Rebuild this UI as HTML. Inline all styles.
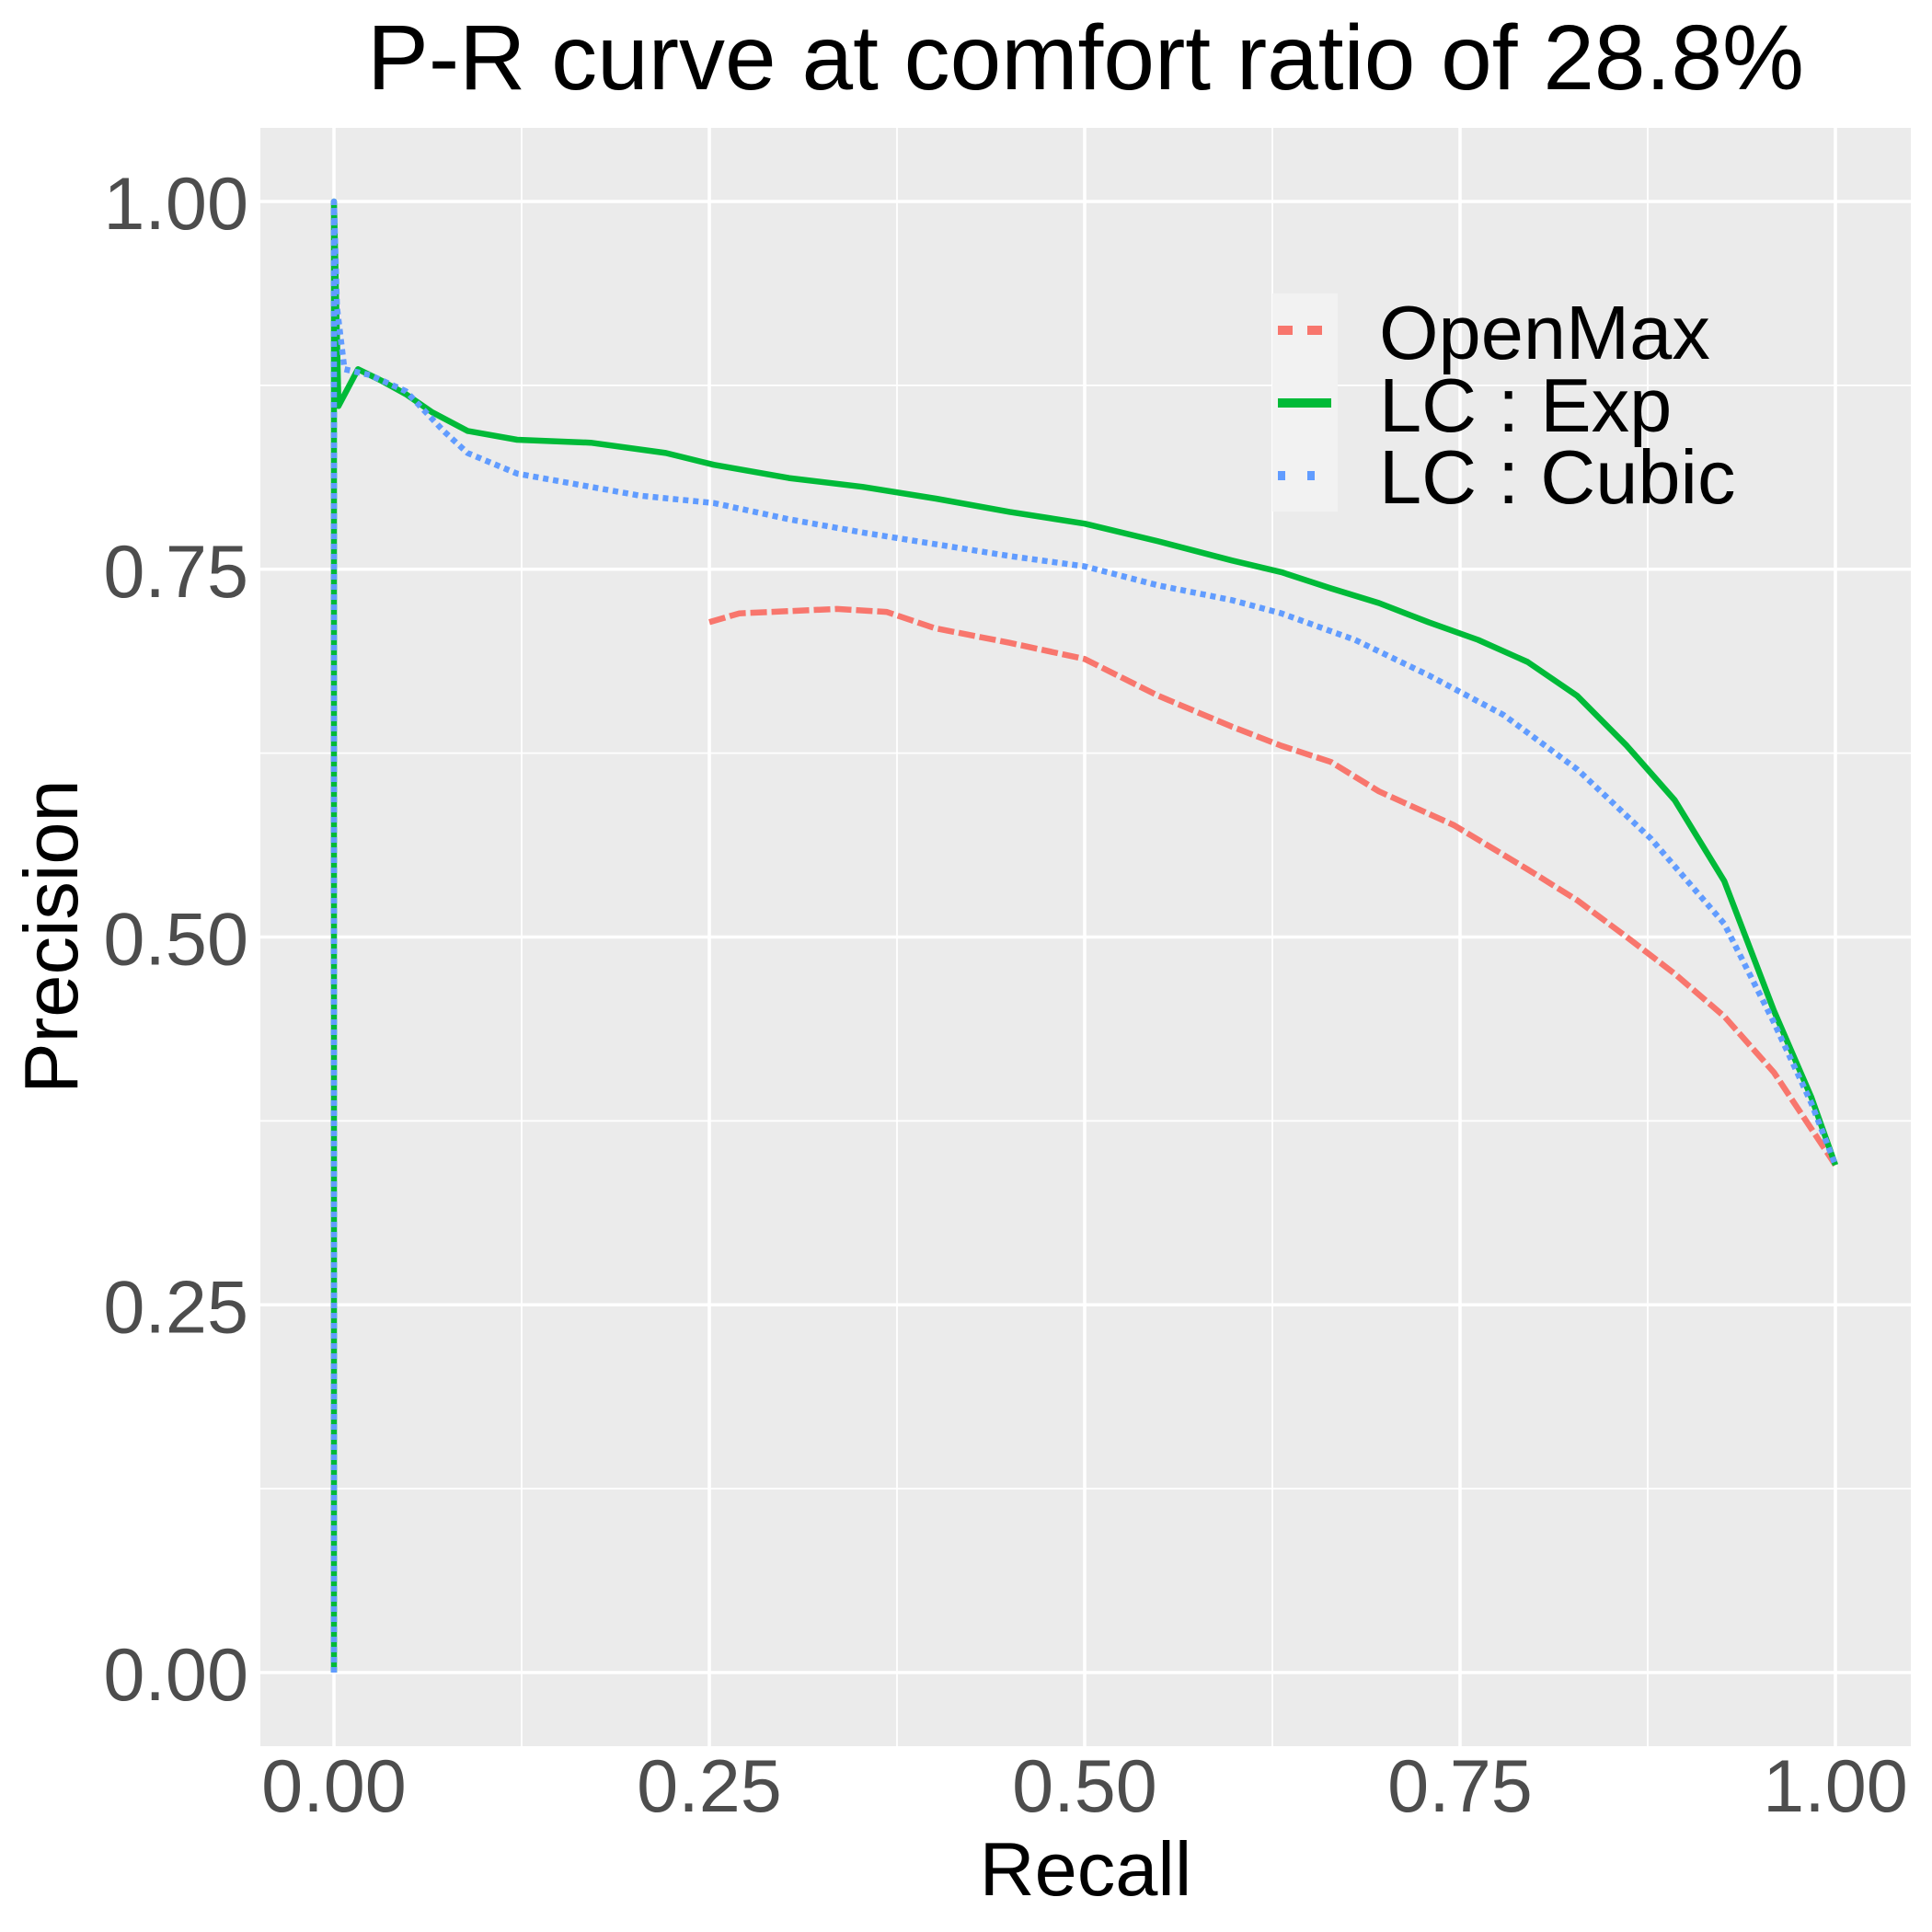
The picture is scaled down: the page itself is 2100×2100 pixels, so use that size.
<!DOCTYPE html>
<html><head><meta charset="utf-8"><style>
html,body{margin:0;padding:0;background:#fff;}
svg{display:block;font-family:"Liberation Sans",Arial,sans-serif;}
</style></head><body>
<svg id="chart" width="2100" height="2100" viewBox="0 0 2100 2100">
<rect x="0" y="0" width="2100" height="2100" fill="#fff"/>
<rect x="283" y="139" width="1794" height="1759" fill="#ebebeb"/>
<g id="grid"></g>
<g id="series"></g>
<g id="yticks"></g>
<g id="xticks"></g>
<text x="1180" y="97" font-size="100" text-anchor="middle" fill="#000">P-R curve at comfort ratio of 28.8%</text>
<text x="1180" y="2060" font-size="83" text-anchor="middle" fill="#000">Recall</text>
<text transform="translate(84,1018) rotate(-90)" font-size="83" text-anchor="middle" fill="#000">Precision</text>
<g>
<rect x="1383" y="319" width="71" height="237" fill="#f2f2f2"/>
<line x1="1389" y1="359" x2="1447" y2="359" stroke="#F8766D" stroke-width="10" stroke-dasharray="16 16"/>
<line x1="1389" y1="438" x2="1447" y2="438" stroke="#00BA38" stroke-width="10"/>
<line x1="1389" y1="517" x2="1447" y2="517" stroke="#619CFF" stroke-width="10" stroke-dasharray="8 24"/>
<text x="1499" y="390" font-size="83" fill="#000">OpenMax</text>
<text x="1499" y="469" font-size="83" fill="#000">LC : Exp</text>
<text x="1499" y="547" font-size="83" fill="#000">LC : Cubic</text>
</g>
</svg>
<script>
const tickValues=[0,0.25,0.5,0.75,1];
const tickLabels=["0.00","0.25","0.50","0.75","1.00"];
const minorValues=[0.125,0.375,0.625,0.875];
const openmaxRecall=[0.25,0.27,0.335,0.368,0.40,0.45,0.50,0.549,0.598,0.631,0.664,0.696,0.746,0.795,0.828,0.861,0.893,0.926,0.959,1.0];
const openmaxPrecision=[0.714,0.72,0.723,0.721,0.71,0.70,0.689,0.664,0.643,0.630,0.619,0.599,0.576,0.546,0.525,0.500,0.475,0.446,0.408,0.345];
const expRecall=[0,0,0.003,0.016,0.032,0.048,0.065,0.089,0.122,0.171,0.221,0.253,0.303,0.352,0.401,0.450,0.50,0.549,0.598,0.631,0.664,0.696,0.729,0.762,0.795,0.828,0.861,0.893,0.926,0.959,0.984,1.0];
const expPrecision=[0,1.0,0.861,0.886,0.878,0.869,0.857,0.844,0.838,0.836,0.829,0.821,0.812,0.806,0.798,0.789,0.781,0.769,0.756,0.748,0.737,0.727,0.714,0.702,0.687,0.664,0.630,0.593,0.538,0.450,0.391,0.345];
const cubicRecall=[0,0,0.002,0.007,0.024,0.048,0.073,0.089,0.122,0.171,0.204,0.253,0.303,0.352,0.401,0.450,0.50,0.549,0.598,0.631,0.680,0.729,0.779,0.828,0.877,0.926,0.959,0.984,1.0];
const cubicPrecision=[0,1.0,0.928,0.886,0.882,0.871,0.844,0.829,0.815,0.806,0.800,0.795,0.784,0.775,0.767,0.759,0.752,0.739,0.729,0.720,0.702,0.678,0.651,0.614,0.567,0.509,0.442,0.387,0.345];

const NS="http://www.w3.org/2000/svg";
const X0=363,X1=1995,Y0=1818,Y1=219;
function sx(v){return X0+(X1-X0)*v;}
function sy(v){return Y0-(Y0-Y1)*v;}
const grid=document.getElementById('grid');
function gl(x1,y1,x2,y2,w,name){
  const l=document.createElementNS(NS,'line');
  l.setAttribute('x1',x1);l.setAttribute('y1',y1);l.setAttribute('x2',x2);l.setAttribute('y2',y2);
  l.setAttribute('stroke','#fff');l.setAttribute('stroke-width',w);
  
  
  grid.appendChild(l);
}
minorValues.forEach(v=>{gl(sx(v),139,sx(v),1898,1.8,'x-minor-gridline');gl(283,sy(v),2077,sy(v),1.8,'y-minor-gridline');});
tickValues.forEach(v=>{gl(sx(v),139,sx(v),1898,3.6,'x-major-gridline');gl(283,sy(v),2077,sy(v),3.6,'y-major-gridline');});
const yt=document.getElementById('yticks'),xt=document.getElementById('xticks');
tickValues.forEach((v,i)=>{
  const t=document.createElementNS(NS,'text');
  t.setAttribute('x',270);t.setAttribute('y',sy(v)+30);t.setAttribute('font-size','81');
  t.setAttribute('text-anchor','end');t.setAttribute('fill','#4d4d4d');t.textContent=tickLabels[i];
  
  
  yt.appendChild(t);
  const u=document.createElementNS(NS,'text');
  u.setAttribute('x',sx(v));u.setAttribute('y',1969);u.setAttribute('font-size','81');
  u.setAttribute('text-anchor','middle');u.setAttribute('fill','#4d4d4d');u.textContent=tickLabels[i];
  
  
  xt.appendChild(u);
});
const ser=document.getElementById('series');
function line(xs,ys,color,dash,name){
  const p=document.createElementNS(NS,'path');
  p.setAttribute('d',xs.map((x,i)=>(i?'L':'M')+sx(x).toFixed(1)+' '+sy(ys[i]).toFixed(1)).join(' '));
  p.setAttribute('fill','none');p.setAttribute('stroke',color);p.setAttribute('stroke-width','6.5');
  p.setAttribute('stroke-linejoin','round');
  if(dash)p.setAttribute('stroke-dasharray',dash);
  
  
  ser.appendChild(p);
}
line(openmaxRecall,openmaxPrecision,'#F8766D','18 5','openmax-line');
line(expRecall,expPrecision,'#00BA38',null,'lc-exp-line');
line(cubicRecall,cubicPrecision,'#619CFF','6 5','lc-cubic-line');
</script>
</body></html>
